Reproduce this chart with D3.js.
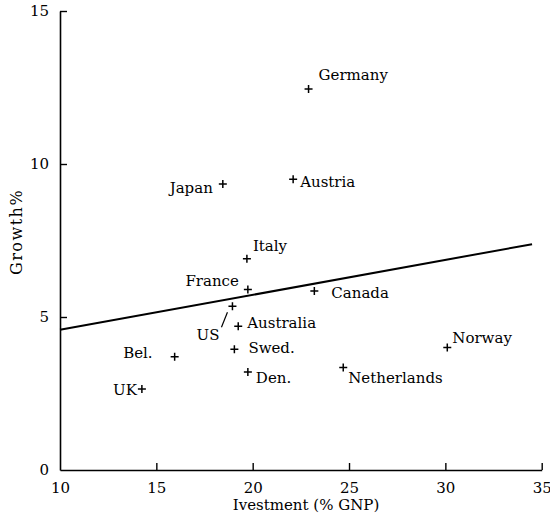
<!DOCTYPE html>
<html>
<head>
<meta charset="utf-8">
<script src="https://cdn.jsdelivr.net/npm/d3@7"></script>
<style>
  body { margin: 0; background: #fff; }
  text { font-family: "DejaVu Serif", serif; fill: #000; }
</style>
</head>
<body>
<div id="chart"></div>
<script>
// data
const countries = ["Germany", "Japan", "Austria", "Italy", "France", "Canada", "US",
  "Australia", "Swed.", "Bel.", "Den.", "Netherlands", "Norway", "UK"];
const investment = [22.9, 18.45, 22.1, 19.7, 19.75, 23.2, 18.95, 19.25, 19.05, 15.95, 19.75, 24.7, 30.1, 14.25];
const growth = [12.45, 9.35, 9.5, 6.9, 5.9, 5.85, 5.35, 4.7, 3.95, 3.7, 3.2, 3.35, 4.0, 2.65];
const fitX = [10, 34.5];
const fitY = [4.58, 7.38];
const xTicks = [10, 15, 20, 25, 30, 35];
const yTicks = [0, 5, 10, 15];

// label placement: [dx, dy, anchor]
const place = {
  "Germany": [10, -9, "start"], "Japan": [-10, 9, "end"], "Austria": [7, 8, "start"],
  "Italy": [6, -8, "start"], "France": [-9, -3, "end"], "Canada": [17, 7, "start"],
  "US": [-13, 34, "end"], "Australia": [9, 2, "start"], "Swed.": [14, 4, "start"],
  "Bel.": [-22, 1, "end"], "Den.": [8, 11, "start"], "Netherlands": [5, 16, "start"],
  "Norway": [5, -5, "start"], "UK": [-5, 6, "end"]
};

const width = 550, height = 524;
const svg = d3.select("#chart").append("svg")
  .attr("width", width).attr("height", height);

const x = d3.scaleLinear().domain([10, 35]).range([60, 541.7]);
const y = d3.scaleLinear().domain([0, 15]).range([470, 11]);

svg.append("g")
  .attr("transform", `translate(0, ${y(0)})`)
  .call(d3.axisBottom(x).tickValues(xTicks).tickSize(-7).tickPadding(12).tickSizeOuter(0))
  .call(g => g.selectAll(".tick").filter(d => d === 10).select("line").remove())
  .call(g => g.select(".domain").attr("stroke-width", 1.6))
  .call(g => g.selectAll("line").attr("stroke-width", 1.4))
  .call(g => g.selectAll("text").style("font-size", "15px").attr("font-family", null));

svg.append("g")
  .attr("transform", `translate(${x(10)}, 0)`)
  .call(d3.axisLeft(y).tickValues(yTicks).tickSize(-7).tickPadding(11).tickSizeOuter(0))
  .call(g => g.selectAll(".tick").filter(d => d === 0).select("line").remove())
  .call(g => g.select(".domain").attr("stroke-width", 1.6))
  .call(g => g.selectAll("line").attr("stroke-width", 1.4))
  .call(g => g.selectAll("text").style("font-size", "15px").attr("font-family", null));

svg.append("text")
  .attr("x", 306).attr("y", 510)
  .attr("text-anchor", "middle")
  .style("font-size", "15px")
  .text("Ivestment (% GNP)");

svg.append("text")
  .attr("transform", "translate(22, 232) rotate(-90)")
  .attr("text-anchor", "middle")
  .style("font-size", "16px")
  .style("letter-spacing", "1.5px")
  .text("Growth%");

// fitted line
svg.append("line")
  .attr("x1", x(fitX[0])).attr("y1", y(fitY[0]))
  .attr("x2", x(fitX[1])).attr("y2", y(fitY[1]))
  .attr("stroke", "#000").attr("stroke-width", 2);

const pts = countries.map((c, i) => ({name: c, x: investment[i], y: growth[i]}));

const pt = svg.selectAll("g.pt").data(pts).enter()
  .append("g").attr("class", "pt")
  .attr("transform", d => `translate(${x(d.x)}, ${y(d.y)})`);

pt.append("path")
  .attr("d", "M-4,0H4M0,-4V4")
  .attr("stroke", "#000").attr("stroke-width", 1.5);

pt.append("text")
  .attr("x", d => place[d.name][0])
  .attr("y", d => place[d.name][1])
  .attr("text-anchor", d => place[d.name][2])
  .style("font-size", "15px")
  .text(d => d.name);

// leader stroke for the US label
pt.filter(d => d.name === "US").append("line")
  .attr("x1", -11).attr("y1", 21).attr("x2", -5).attr("y2", 6)
  .attr("stroke", "#000").attr("stroke-width", 1.2);
</script>
</body>
</html>
